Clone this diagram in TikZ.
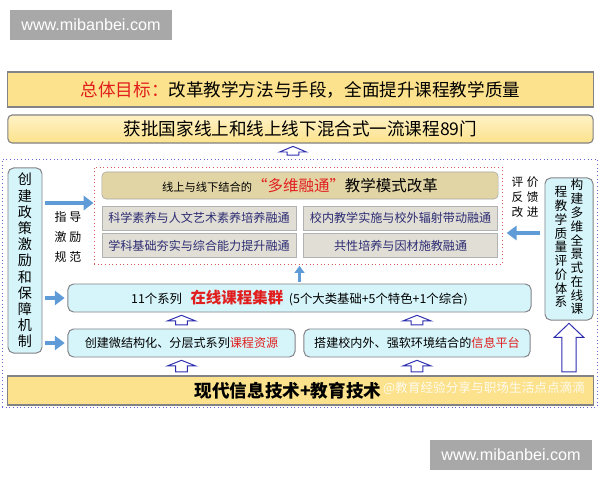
\documentclass[tikz,border=0pt]{standalone}
\usepackage{fontspec}
\setmainfont{Noto Sans CJK SC}
\newfontfamily\latinsans{Liberation Sans}
\usepackage{tikz}
\usetikzlibrary{arrows.meta,positioning,calc}
\definecolor{mbyellow}{RGB}{252,226,140}
\definecolor{mbpaleyellow}{RGB}{255,242,198}
\definecolor{mbcyan}{RGB}{214,245,250}
\definecolor{mbtan}{RGB}{226,213,165}
\definecolor{mbgrey}{RGB}{225,222,214}
\definecolor{mbedge}{RGB}{130,130,135}
\definecolor{mbnavy}{RGB}{45,45,115}
\definecolor{mbred}{RGB}{225,30,30}
\definecolor{mbarrow}{RGB}{95,155,215}
\definecolor{mbhollow}{RGB}{45,45,175}
\definecolor{mbframe}{RGB}{100,100,210}
\definecolor{mbdots}{RGB}{215,90,90}
\definecolor{mbmark}{RGB}{168,168,168}
\tikzstyle{goalbar} = [rectangle, draw=mbedge, fill=mbyellow, minimum width=14.625cm, line width=0.8pt, font=\fontsize{12.5}{14}\selectfont]
\tikzstyle{cyanbox} = [rectangle, rounded corners=4pt, draw=mbedge, fill=mbcyan, line width=0.7pt, font=\fontsize{8.6}{10}\selectfont]
\tikzstyle{fusebox} = [rectangle, draw=gray!60, fill=mbgrey, minimum width=4.85cm, minimum height=0.6cm, text=mbnavy, font=\fontsize{8.6}{10}\selectfont]
\tikzstyle{vtext} = [align=center, inner sep=0pt]
\tikzstyle{marktag} = [rectangle, fill=mbmark, text=white, minimum width=4.05cm, minimum height=0.75cm, font=\latinsans\fontsize{11.5}{13}\selectfont]
\tikzstyle{bluearrow} = [line width=3pt, draw=mbarrow, -{Triangle[length=7pt,width=10pt]}]
\tikzstyle{hollow} = [draw=mbhollow, fill=white, line width=0.7pt, line join=miter]
% block arrow pointing up: from, to, shaft half, head half, head length
\newcommand{\hollowup}[5]{%
  \draw[hollow] let \p1=(#1), \p2=(#2) in
    (\x1-#3,\y1+2.5pt) -- (\x1-#3,\y2-2pt-#5) -- (\x1-#4,\y2-2pt-#5) -- (\x1,\y2-2pt)
    -- (\x1+#4,\y2-2pt-#5) -- (\x1+#3,\y2-2pt-#5) -- (\x1+#3,\y1+2.5pt) -- cycle;}

\begin{document}
\begin{tikzpicture}[x=0.025cm, y=-0.025cm]
\useasboundingbox (0,0) rectangle (600,480);

% watermark tags
\node (marktop) [marktag] at (91,25) {www.mibanbei.com};
\node (markbottom) [marktag] at (511,455) {www.mibanbei.com};

% goal and result
\node (goal) [goalbar, minimum height=0.875cm] at (300.5,89.5) {{\color{mbred}总体目标：}改革教学方法与手段，全面提升课程教学质量};
\node (course89) [goalbar, rounded corners=3pt, top color=mbpaleyellow, bottom color=mbyellow, minimum height=0.7cm] at (300.5,129) {获批国家线上和线上线下混合式一流课程89门};

% outer frame
\node (frame) [draw=mbframe, dotted, line width=0.6pt, minimum width=14.875cm, minimum height=6.2cm] at (299.5,283) {};

% teaching mode reform
\node (reform) [draw=mbdots, dotted, line width=0.6pt, minimum width=10.2cm, minimum height=2.425cm] at (298,215.5) {};
\node (mode) [rectangle, rounded corners=3pt, draw=gray!70, fill=mbtan, minimum width=9.9cm, minimum height=0.675cm] at (300,185.5) {{\fontsize{8}{10}\selectfont 线上与线下结合的}{\fontsize{11}{13}\selectfont\color{mbred}“多维融通”}{\fontsize{11}{13}\selectfont 教学模式改革}};
\node (fuse1) [fusebox] at (199,218) {科学素养与人文艺术素养培养融通};
\node (fuse2) [fusebox, right=0.175cm of fuse1] {校内教学实施与校外辐射带动融通};
\node (fuse3) [fusebox, below=0.075cm of fuse1] {学科基础夯实与综合能力提升融通};
\node (fuse4) [fusebox, below=0.075cm of fuse2] {共性培养与因材施教融通};

% supports
\node (cluster) [cyanbox, minimum width=11.575cm, minimum height=0.7cm] at (299.5,298) {{\fontsize{8.8}{10}\selectfont 11个系列}\hspace{6pt}{\fontsize{11}{13}\selectfont\bfseries\color{mbred}在线课程集群}\hspace{4pt}{\fontsize{8.8}{10}\selectfont (5个大类基础+5个特色+1个综合)}};
\node (resource) [cyanbox, minimum width=5.675cm, minimum height=0.7cm] at (181.5,343) {创建微结构化、分层式系列{\color{mbred}课程资源}};
\node (platform) [cyanbox, minimum width=5.65cm, minimum height=0.7cm] at (417,343) {搭建校内外、强软环境结合的{\color{mbred}信息平台}};
\node (tech) [goalbar, minimum height=0.725cm] at (300.5,390.5) {};
\node (techtext) [font=\fontsize{12.5}{14}\selectfont\bfseries] at (288,390.5) {现代信息技术+教育技术};
\node (weibo) [text=white, opacity=0.85, anchor=east, font=\fontsize{9}{11}\selectfont] at (590,388) {@教育经验分享与职场生活点点滴滴};

% side boxes
\node (policy) [cyanbox, minimum width=0.85cm, minimum height=4.625cm, align=center, font=\fontsize{10}{11.5}\selectfont] at (25,260.5) {创\\建\\政\\策\\激\\励\\和\\保\\障\\机\\制};
\node (evalsys) [cyanbox, minimum width=1.2cm, minimum height=3.55cm] at (569,249) {};
\node (evalright) [vtext, anchor=north, font=\fontsize{9}{9.8}\selectfont] at (577,179) {构\\建\\多\\维\\全\\景\\式\\在\\线\\课};
\node (evalleft) [vtext, anchor=north, font=\fontsize{9}{9.8}\selectfont] at (561,186) {程\\教\\学\\质\\量\\评\\价\\体\\系};
\node (guide) [align=center, font=\fontsize{8.5}{14}\selectfont] at (68,237) {指\hspace{2pt}导\\激\hspace{2pt}励\\规\hspace{2pt}范};
\node (feedback) [align=center, font=\fontsize{8.3}{10.8}\selectfont] at (525,197) {评\hspace{2.5pt}价\\反\hspace{2.5pt}馈\\改\hspace{2.5pt}进};

% arrows
\coordinate (guideline) at (0,203);
\coordinate (feedline) at (0,233);
\coordinate (upmark) at (293,0);
\draw[bluearrow, shorten <=2pt] (policy.east |- guideline) -- (reform.west |- guideline);
\draw[bluearrow, shorten <=2pt, shorten >=2pt] (policy.east |- cluster.west) -- (cluster.west);
\draw[bluearrow, shorten <=2pt, shorten >=2pt] (policy.east |- resource.west) -- (resource.west);
\draw[bluearrow, shorten <=3pt, shorten >=3pt] (evalsys.west |- feedline) -- (reform.east |- feedline);
\draw[bluearrow, line width=1.5pt, -{Triangle[length=5pt,width=7pt]}, shorten <=1pt, shorten >=1pt] (cluster.north) -- (reform.south -| cluster.north);

\hollowup{frame.north -| upmark}{course89.south -| upmark}{4.2pt}{9.5pt}{4pt}
\hollowup{resource.north}{cluster.south -| resource.north}{4.2pt}{10pt}{4pt}
\hollowup{platform.north}{cluster.south -| platform.north}{4.2pt}{10pt}{4pt}
\hollowup{tech.north -| resource.south}{resource.south}{4.2pt}{10pt}{4pt}
\hollowup{tech.north -| platform.south}{platform.south}{4.2pt}{10pt}{4pt}
\hollowup{tech.north -| evalsys.south}{evalsys.south}{5pt}{10.5pt}{10pt}
\end{tikzpicture}
\end{document}
